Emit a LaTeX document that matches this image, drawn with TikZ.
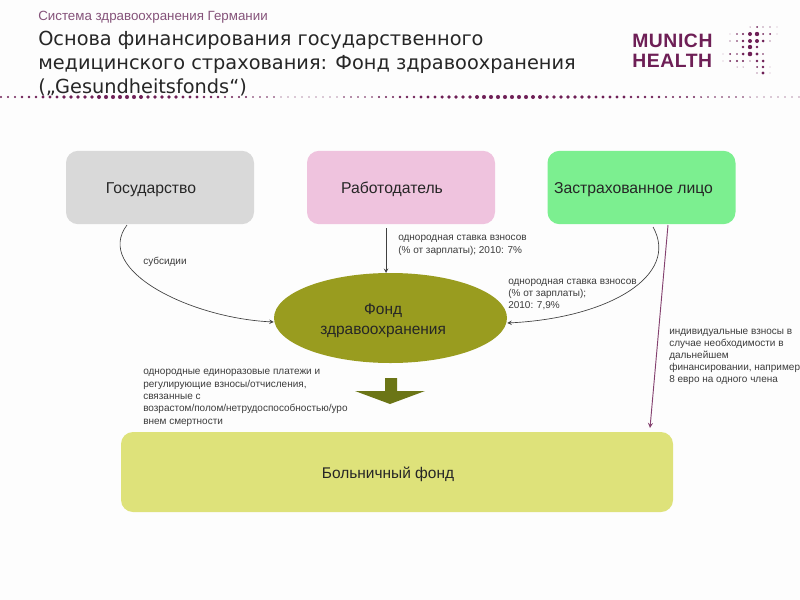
\documentclass[tikz,border=0pt]{standalone}
\usepackage{fontspec}
\setmainfont{Liberation Sans}
\newfontfamily\titlefont{DejaVu Sans}
\newfontfamily\logofont[LetterSpace=3]{Liberation Sans}
\usetikzlibrary{arrows, calc, positioning, shapes.geometric}
\definecolor{plum}{HTML}{6E1F56}
\definecolor{subplum}{HTML}{85537A}
\definecolor{textgrey}{HTML}{3C3C3C}
\definecolor{olive}{HTML}{999C1F}
\definecolor{darkolive}{HTML}{6B7516}
\definecolor{paper}{HTML}{FDFDFD}
\definecolor{gosfill}{HTML}{D9D9D9}
\definecolor{rabfill}{HTML}{EFC3DE}
\definecolor{zastfill}{HTML}{7CEF90}
\definecolor{kassefill}{HTML}{DEE27A}
\tikzset{
	box/.style={rectangle, rounded corners=9pt, minimum width=141pt, minimum height=55pt, inner sep=0pt, text height=12pt, text depth=2.5pt, text=black!85, font=\fontsize{11.8}{14}\selectfont},
	note/.style={anchor=north west, inner sep=0pt, align=left, text=textgrey, font=\fontsize{7.5}{9.3}\selectfont},
	tightnote/.style={note, font=\fontsize{7.5}{8.9}\selectfont},
	flow/.style={->, >=stealth, black!75, line width=.5pt},
	logotext/.style={anchor=west, inner sep=0pt, text=plum, font=\logofont\bfseries\fontsize{14.5}{15}\selectfont}
}
\begin{document}
\begin{tikzpicture}[x=.75pt, y=-.75pt]
	\useasboundingbox[fill=paper] (0,0) rectangle (800,600);

	\node (rubric) [anchor=west, inner sep=0pt, text=subplum, font=\fontsize{10}{12}\selectfont] at (38,17) {Система здравоохранения Германии};

	% dotted rule
	\foreach \i in {0,...,114}
	{
		\pgfmathsetmacro{\dotx}{\i*7+1}
		\pgfmathsetmacro{\dotsize}{\dotx<500 ? 1.35+.7*cos((\dotx-120)*.947) : 1.35+.7*cos((\dotx-500)*.6)}
		\fill[plum] (\dotx,97) circle (\dotsize);
	}

	\node (title) [anchor=north west, inner sep=0pt, align=left, text=black!85, font=\titlefont\fontsize{14.5}{18}\selectfont] at (38,31) {Основа финансирования государственного\\медицинского страхования: Фонд здравоохранения\\(„Gesundheitsfonds“)};

	% logo
	\node (munich) [logotext] at (632,41) {MUNICH};
	\node (health) [logotext] at (632,61) {HEALTH};
	\foreach \x/\y/\r in {750/27/.5, 757/27/1, 763/27/.7, 770/27/.6, 777/27/.4,
		730/34/.4, 737/34/.8, 743/34/1.2, 750/34/2, 757/34/2.2, 763/34/1, 770/34/1, 777/34/.4,
		730/41/.7, 737/41/.9, 743/41/1.3, 750/41/2, 757/41/2, 763/41/1.5, 770/41/.7,
		743/47/1.3, 750/47/2.2, 757/47/1.3,
		723/54/.4, 730/54/1, 737/54/.9, 743/54/1.5, 750/54/2.3, 757/54/1.6, 763/54/.8,
		723/61/.4, 730/61/1, 737/61/1.2, 743/61/1.2, 750/61/.7, 757/61/1.4, 763/61/1.5,
		737/67/.5, 743/67/.5, 757/67/1, 763/67/1.3, 770/67/.4,
		757/73/.6, 763/73/1.6, 770/73/.4}
	{
		\fill[plum] (\x,\y) circle (\r);
	}

	\node (gos) [box, fill=gosfill] at (160,187.5) {Государство\kern13.5pt};
	\node (rab) [box, fill=rabfill] at (401,187.5) {Работодатель\kern13.5pt};
	\node (zast) [box, fill=zastfill] at (641.5,187.5) {Застрахованное лицо\kern12pt};

	\node (fond) [ellipse, fill=olive, minimum width=174.75pt, minimum height=67.5pt, inner sep=0pt, align=center, text=black!85, font=\fontsize{11.6}{14.5}\selectfont] at (390.5,318) {\rule{0pt}{12pt}Фонд\kern11pt\\здравоохранения\kern11pt};

	\node (kasse) [box, minimum width=414pt, minimum height=60pt, fill=kassefill, font=\fontsize{11.6}{14}\selectfont] at (397,472) {Больничный фонд\kern13.5pt};

	\coordinate (gosout) at (127,225);
	\coordinate (rabout) at (386,228);
	\coordinate (zastout) at (653,227);
	\coordinate (zastpay) at (668,225);
	\coordinate (fondin) at (386,273);
	\coordinate (kassein) at (650,428);

	\draw[flow] (gosout) .. controls (93,270) and (190,318) .. ([yshift=-3pt]fond.west);
	\draw[flow] (rabout) -- (fondin);
	\draw[flow] (zastout) .. controls (680,275) and (610,318) .. ([yshift=-3.75pt]fond.east);
	\draw[->, >=stealth, color=plum!85!white, line width=.7pt] (zastpay) -- (kassein);

	% block arrow
	\fill[darkolive] (385,378) -- (397,378) -- (397,391) -- (425,391) -- (390,404) -- (355,391) -- (385,391) -- cycle;

	\node (subs) [note] at (143,257) {субсидии};
	\node (stavka) [note] at (398,235) {однородная ставка взносов\\(\% от зарплаты); 2010: 7\%};
	\node (stavkaz) [tightnote] at (508,279) {однородная ставка взносов\\(\% от зарплаты);\\2010: 7,9\%};
	\node (indiv) [tightnote] at (669,329) {индивидуальные взносы в\\случае необходимости в\\дальнейшем\\финансировании, например\\8 евро на одного члена};
	\node (plat) [note] at (143,369) {однородные единоразовые платежи и\\регулирующие взносы/отчисления,\\связанные с\\возрастом/полом/нетрудоспособностью/уро\\внем смертности};
\end{tikzpicture}
\end{document}
